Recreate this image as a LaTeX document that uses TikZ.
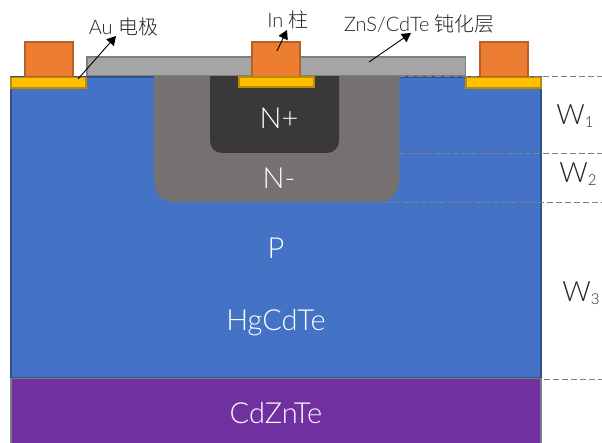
\documentclass[tikz,border=0pt]{standalone}
\usepackage{fontspec}
\setmainfont{Lato}[UprightFont=* Light]
\newfontfamily\cjk{Noto Sans CJK SC}[UprightFont=* Light]
\usetikzlibrary{arrows.meta}
\definecolor{blueL}{HTML}{4472C4}
\definecolor{blueD}{HTML}{2F528F}
\definecolor{purpL}{HTML}{7030A0}
\definecolor{grayE}{HTML}{7F7F7F}
\definecolor{nminus}{HTML}{767171}
\definecolor{nplus}{HTML}{3B3838}
\definecolor{passiv}{HTML}{A5A5A5}
\definecolor{orangeF}{HTML}{ED7D31}
\definecolor{orangeE}{HTML}{B7612A}
\definecolor{goldF}{HTML}{FFC000}
\definecolor{goldE}{HTML}{BC8C00}
\newcommand{\dimsub}[1]{\raisebox{-3pt}{\fontsize{15}{16}\selectfont #1}}
\tikzset{
  layerlbl/.style={text=white,font=\fontsize{29}{31}\selectfont,inner sep=0pt},
  dimlbl/.style={text=black!85,font=\fontsize{28}{30}\selectfont,inner sep=0pt},
  calllbl/.style={text=black!85,font=\fontsize{20}{22}\selectfont,inner sep=0pt},
  pad/.style={fill=goldF,draw=goldE,line width=1.6pt},
  bump/.style={fill=orangeF,draw=orangeE,line width=1.6pt},
  leader/.style={line width=0.9pt,-{Triangle[length=9pt,width=10pt]}},
  level/.style={draw=black!50,line width=0.7pt,dash pattern=on 5.5pt off 3.5pt},
}
\begin{document}
\begin{tikzpicture}[x=1pt,y=-1pt]
\useasboundingbox (0,0) rectangle (602,443);
\fill[white] (0,0) rectangle (602,443);
% substrate and absorber
\draw[fill=blueL,draw=blueD,line width=1.4pt] (11,77) rectangle (541,378);
\draw[fill=purpL,draw=grayE,line width=1.6pt] (11,378.5) rectangle (541,446);
% junction regions
\fill[nminus] (154,76) -- (399,76) -- (399,182) arc[start angle=0,end angle=90,radius=20] -- (174,202) arc[start angle=90,end angle=180,radius=20] -- cycle;
\fill[nplus] (210,76) -- (339,76) -- (339,141) arc[start angle=0,end angle=90,radius=12] -- (222,153) arc[start angle=90,end angle=180,radius=12] -- cycle;
% level lines
\coordinate (l1a) at (399,76.5); \coordinate (l1b) at (602,76.5);
\coordinate (l2a) at (399,153); \coordinate (l2b) at (602,153);
\coordinate (l3a) at (385,202); \coordinate (l3b) at (602,202);
\coordinate (l4a) at (544,379); \coordinate (l4b) at (602,379);
\draw[level] (l1a) -- (l1b);
\draw[level] (l2a) -- (l2b);
\draw[level] (l3a) -- (l3b);
\draw[level] (l4a) -- (l4b);
% passivation
\draw[fill=passiv,draw=grayE,line width=1.6pt] (87,57) rectangle (465.5,75.5);
% contacts
\draw[bump] (25,42) rectangle (73,77);
\draw[bump] (252,42) rectangle (300,77);
\draw[bump] (480,42) rectangle (528,77);
\draw[pad] (11,77.5) rectangle (86,88);
\draw[pad] (239,77) rectangle (314,87);
\draw[pad] (466,77.5) rectangle (541,88);
% layer labels
\node[layerlbl] (np) at (279,118) {N+};
\node[layerlbl] (nm) at (279,178) {N-};
\node[layerlbl] (p) at (276,248) {P};
\node[layerlbl] (hg) at (276,323) {HgCdTe};
\node[layerlbl] (cz) at (276,413) {CdZnTe};
% dimensions
\node[dimlbl] (w1) at (575,116) {W\dimsub{1}};
\node[dimlbl] (w2) at (578,174) {W\dimsub{2}};
\node[dimlbl] (w3) at (581,293) {W\dimsub{3}};
% callouts
\node[calllbl] (au) at (123.5,27) {Au {\cjk 电极}};
\node[calllbl] (in) at (288,20) {In {\cjk 柱}};
\node[calllbl] (zn) at (419.5,24) {ZnS/CdTe {\cjk 钝化层}};
\coordinate (auf) at (78,79);
\coordinate (inf) at (277,51);
\coordinate (znf) at (369,62);
\coordinate (aut) at (116,36);
\coordinate (int) at (287,30);
\coordinate (znt) at (411,33);
\draw[leader] (auf) -- (aut);
\draw[leader] (inf) -- (int);
\draw[leader] (znf) -- (znt);
\end{tikzpicture}
\end{document}
